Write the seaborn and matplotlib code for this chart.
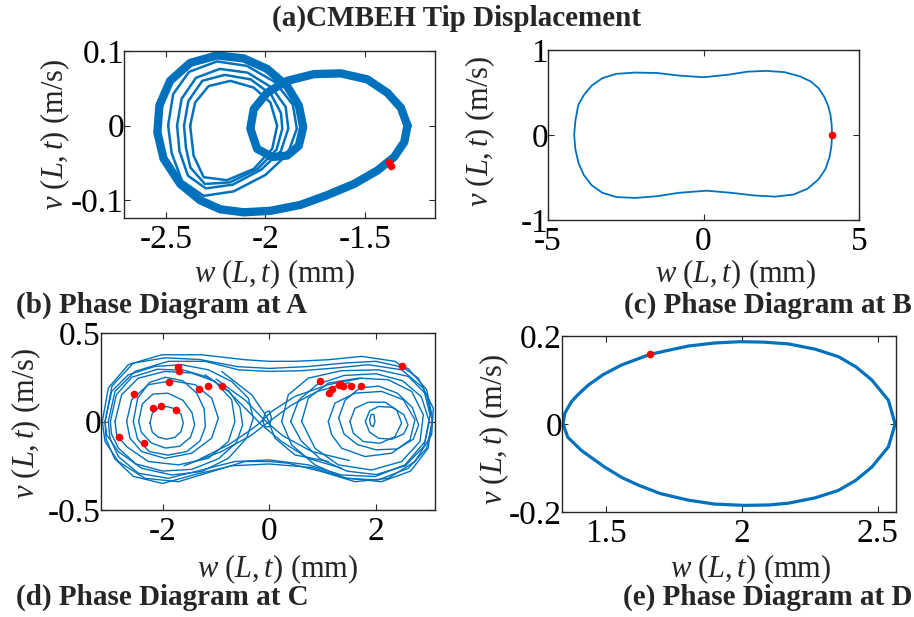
import numpy as np
import matplotlib
matplotlib.use("Agg")
import matplotlib.pyplot as plt
import seaborn as sns

# ---- data -------------------------------------------------------------
# (b) phase diagram at A : main cycle band + nested inner rings
b_main_w = [-1.285, -1.301, -1.352, -1.436, -1.554, -1.689, -1.823, -1.975, -2.109, -2.227,
            -2.328, -2.429, -2.513, -2.544, -2.534, -2.480, -2.379, -2.244, -2.109, -1.992,
            -1.891, -1.832, -1.810, -1.832, -1.891, -1.966, -2.042, -2.076, -2.059, -1.992,
            -1.891, -1.756, -1.621, -1.487, -1.386, -1.318]
b_main_v = [0.000, -0.022, -0.042, -0.060, -0.078, -0.093, -0.106, -0.114, -0.116, -0.112,
            -0.100, -0.078, -0.044, -0.009, 0.027, 0.060, 0.084, 0.094, 0.090, 0.076,
            0.053, 0.027, -0.002, -0.027, -0.040, -0.042, -0.031, -0.004, 0.022, 0.044,
            0.060, 0.069, 0.070, 0.062, 0.044, 0.024]
b_ring1_w = [-2.490, -2.465, -2.385, -2.244, -2.093, -1.950, -1.862, -1.842, -1.888, -2.000,
             -2.160, -2.311, -2.420, -2.472]
b_ring1_v = [0.000, 0.042, 0.072, 0.086, 0.080, 0.058, 0.028, -0.004, -0.038, -0.066,
             -0.088, -0.094, -0.074, -0.037]
b_ring2_w = [-2.445, -2.422, -2.350, -2.230, -2.090, -1.968, -1.898, -1.885, -1.922, -2.022,
             -2.165, -2.300, -2.390, -2.433]
b_ring2_v = [0.000, 0.036, 0.064, 0.076, 0.071, 0.051, 0.025, -0.004, -0.034, -0.059,
             -0.079, -0.084, -0.067, -0.034]
b_ring3_w = [-2.410, -2.388, -2.318, -2.205, -2.075, -1.972, -1.922, -1.915, -1.944, -2.040,
             -2.180, -2.305, -2.378, -2.400]
b_ring3_v = [0.000, 0.033, 0.060, 0.068, 0.062, 0.042, 0.017, -0.004, -0.032, -0.058,
             -0.076, -0.078, -0.056, -0.030]
b_ring4_w = [-2.379, -2.354, -2.286, -2.177, -2.059, -1.975, -1.941, -1.966, -2.059, -2.194,
             -2.311, -2.362]
b_ring4_v = [0.000, 0.031, 0.053, 0.060, 0.051, 0.031, 0.000, -0.031, -0.058, -0.073,
             -0.069, -0.040]
b_dots_w = [-1.377, -1.369]
b_dots_v = [-0.049, -0.054]

# (c) phase diagram at B
c_w = [4.13, 4.12, 4.08, 4.00, 3.88, 3.70, 3.45, 3.10, 2.60, 2.00, 1.40, 0.80, 0.00, -0.80,
       -1.50, -2.20, -2.80, -3.25, -3.60, -3.85, -4.03, -4.12, -4.16, -4.12, -4.02, -3.85,
       -3.60, -3.25, -2.80, -2.20, -1.50, -0.80, 0.10, 0.90, 1.60, 2.30, 2.90, 3.35, 3.70,
       3.92, 4.05, 4.11]
c_v = [0.00, 0.12, 0.24, 0.35, 0.45, 0.55, 0.63, 0.69, 0.74, 0.755, 0.745, 0.71, 0.68, 0.70,
       0.73, 0.735, 0.72, 0.67, 0.58, 0.47, 0.35, 0.17, 0.00, -0.17, -0.33, -0.47,
       -0.59, -0.68, -0.73, -0.74, -0.72, -0.68, -0.655, -0.68, -0.71, -0.725, -0.70, -0.63, -0.52,
       -0.40, -0.26, -0.13]
c_dots_w = [4.13]
c_dots_v = [0.00]

# (d) phase diagram at C : chaotic orbit, read as loops
d_outer1_w = [-3.131, -3.019, -2.644, -2.019, -1.269, -0.456, 0.000, 0.481, 1.106, 1.731, 2.356,
              2.794, 3.075, 3.044, 2.731, 2.231, 1.606, 0.981, 0.356, 0.000, -0.456, -1.081,
              -1.706, -2.331, -2.831, -3.081]
d_outer1_v = [0.000, 0.189, 0.321, 0.377, 0.377, 0.349, 0.340, 0.340, 0.349, 0.368, 0.340,
              0.245, 0.075, -0.075, -0.226, -0.321, -0.340, -0.283, -0.236, -0.226, -0.226, -0.283,
              -0.340, -0.321, -0.226, -0.113]
d_outer2_w = [-3.019, -2.894, -2.519, -1.894, -1.206, -0.581, 0.000, 0.606, 1.231, 1.856, 2.481,
              2.888, 3.013, 2.919, 2.544, 1.981, 1.356, 0.731, 0.000, -0.644, -1.269, -1.894,
              -2.456, -2.831, -2.988]
d_outer2_v = [0.000, 0.170, 0.283, 0.340, 0.340, 0.292, 0.283, 0.287, 0.302, 0.321, 0.292,
              0.189, 0.038, -0.113, -0.245, -0.311, -0.302, -0.245, -0.217, -0.226, -0.274, -0.321,
              -0.292, -0.198, -0.094]
d_outer3_w = [-3.08, -2.95, -2.55, -1.95, -1.30, -0.60, 0.00, 0.70, 1.40, 2.00, 2.60, 2.95,
              3.06, 2.98, 2.65, 2.10, 1.45, 0.80, 0.00, -0.70, -1.40, -2.00, -2.55, -2.90, -3.06]
d_outer3_v = [0.00, 0.20, 0.33, 0.36, 0.35, 0.31, 0.30, 0.31, 0.33, 0.34, 0.30, 0.18,
              0.02, -0.15, -0.28, -0.34, -0.32, -0.26, -0.24, -0.25, -0.30, -0.35, -0.31, -0.21, -0.10]
d_left1_w = [-3.081, -2.956, -2.644, -2.144, -1.644, -1.144, -0.706, -0.394, -0.300, -0.425,
             -0.769, -1.269, -1.831, -2.394, -2.831, -3.050]
d_left1_v = [0.000, 0.170, 0.264, 0.311, 0.321, 0.292, 0.226, 0.132, 0.019, -0.094,
             -0.208, -0.283, -0.302, -0.264, -0.170, -0.075]
d_left2_w = [-2.98, -2.87, -2.58, -2.10, -1.60, -1.15, -0.75, -0.55, -0.50, -0.62, -0.95,
             -1.45, -2.00, -2.50, -2.83, -2.96]
d_left2_v = [0.00, 0.15, 0.25, 0.295, 0.29, 0.25, 0.17, 0.08, -0.02, -0.12, -0.21,
             -0.27, -0.28, -0.24, -0.15, -0.07]
d_left3_w = [-2.894, -2.769, -2.456, -1.956, -1.456, -1.019, -0.706, -0.644, -0.769, -1.144,
             -1.706, -2.269, -2.675, -2.863]
d_left3_v = [0.000, 0.151, 0.245, 0.283, 0.274, 0.226, 0.123, 0.000, -0.113, -0.208,
             -0.245, -0.226, -0.142, -0.075]
d_left4_w = [-2.675, -2.581, -2.269, -1.831, -1.394, -1.081, -0.956, -1.081, -1.456, -1.956,
             -2.394, -2.613]
d_left4_v = [0.000, 0.123, 0.208, 0.230, 0.208, 0.132, 0.019, -0.094, -0.179, -0.208,
             -0.170, -0.094]
d_left5_w = [-2.55, -2.47, -2.25, -1.95, -1.62, -1.36, -1.22, -1.20, -1.30, -1.55, -1.90,
             -2.25, -2.47]
d_left5_v = [0.00, 0.13, 0.22, 0.25, 0.23, 0.16, 0.07, -0.03, -0.11, -0.17, -0.19,
             -0.17, -0.10]
d_left6_w = [-2.45, -2.38, -2.18, -1.90, -1.62, -1.45, -1.40, -1.48, -1.68, -1.95, -2.22, -2.40]
d_left6_v = [0.00, 0.10, 0.155, 0.16, 0.12, 0.05, -0.02, -0.09, -0.14, -0.15, -0.12, -0.06]
d_left7_w = [-2.238, -2.194, -2.081, -1.925, -1.769, -1.656, -1.613, -1.656, -1.769, -1.925,
             -2.081, -2.194]
d_left7_v = [-0.009, 0.047, 0.075, 0.085, 0.072, 0.042, -0.009, -0.057, -0.089, -0.100,
             -0.089, -0.060]
d_right1_w = [0.231, 0.356, 0.731, 1.356, 2.044, 2.606, 2.950, 3.056, 2.950, 2.606, 2.044,
              1.419, 0.856, 0.419]
d_right1_v = [0.000, 0.151, 0.245, 0.287, 0.292, 0.255, 0.151, 0.000, -0.151, -0.264, -0.330,
              -0.321, -0.245, -0.132]
d_right2_w = [0.40, 0.55, 0.90, 1.40, 2.00, 2.50, 2.85, 3.00, 2.90, 2.55, 2.00, 1.45, 0.95, 0.60]
d_right2_v = [0.00, 0.12, 0.21, 0.26, 0.27, 0.23, 0.14, 0.00, -0.14, -0.25, -0.30, -0.28,
              -0.21, -0.11]
d_right3_w = [0.606, 0.731, 1.106, 1.669, 2.231, 2.669, 2.888, 2.825, 2.481, 1.919, 1.294, 0.856]
d_right3_v = [0.000, 0.132, 0.217, 0.245, 0.236, 0.170, 0.038, -0.113, -0.226, -0.274, -0.245,
              -0.151]
d_right4_w = [1.106, 1.231, 1.606, 2.106, 2.513, 2.731, 2.638, 2.294, 1.794, 1.356, 1.169]
d_right4_v = [0.000, 0.104, 0.160, 0.170, 0.123, 0.009, -0.104, -0.179, -0.198, -0.151, -0.075]
d_right5_w = [1.30, 1.42, 1.70, 2.05, 2.40, 2.68, 2.80, 2.70, 2.40, 2.00, 1.65, 1.40]
d_right5_v = [0.02, 0.12, 0.19, 0.20, 0.16, 0.08, -0.02, -0.10, -0.155, -0.16, -0.13, -0.07]
d_right6_w = [1.513, 1.606, 1.856, 2.169, 2.388, 2.481, 2.356, 2.075, 1.763, 1.575]
d_right6_v = [0.000, 0.075, 0.109, 0.109, 0.066, -0.009, -0.085, -0.123, -0.113, -0.066]
d_right7_w = [1.80, 1.88, 2.05, 2.30, 2.52, 2.60, 2.52, 2.30, 2.05, 1.88]
d_right7_v = [0.00, 0.06, 0.085, 0.08, 0.04, -0.02, -0.07, -0.10, -0.095, -0.06]
d_tiny1_w = [1.88, 1.91, 1.96, 1.98, 1.95, 1.90]
d_tiny1_v = [0.01, 0.04, 0.04, 0.00, -0.03, -0.02]
d_tiny2_w = [-0.12, -0.08, 0.00, 0.04, 0.00, -0.08]
d_tiny2_v = [0.00, 0.05, 0.06, 0.02, -0.03, -0.03]
d_cross1_w = [-1.206, -0.769, -0.394, -0.144, 0.231, 0.731, 1.356]
d_cross1_v = [0.264, 0.170, 0.057, -0.019, -0.113, -0.208, -0.264]
d_cross2_w = [-1.394, -0.769, -0.394, -0.206, 0.044, 0.481, 1.106, 1.731]
d_cross2_v = [-0.226, -0.132, -0.057, -0.015, 0.057, 0.142, 0.208, 0.245]
d_cross3_w = [-0.894, -0.331, -0.050, 0.106, 0.481, 1.106]
d_cross3_v = [0.283, 0.151, 0.028, -0.094, -0.189, -0.226]
d_cross4_w = [-1.60, -0.90, -0.35, 0.00, 0.40, 0.90, 1.50]
d_cross4_v = [-0.25, -0.17, -0.08, 0.00, 0.09, 0.17, 0.22]
d_cross5_w = [-1.00, -0.45, -0.10, 0.25, 0.80, 1.50]
d_cross5_v = [0.24, 0.12, 0.01, -0.08, -0.17, -0.22]
d_dots_w = [-1.706, -1.688, -1.881, -2.538, -2.188, -2.025, -1.750, -2.819, -2.350, -1.313,
            -1.150, -0.881, 0.950, 1.325, 1.375, 1.181, 1.125, 1.538, 1.720, 2.480, 1.313]
d_dots_v = [0.308, 0.283, 0.221, 0.153, 0.074, 0.089, 0.066, -0.089, -0.119, 0.185,
            0.200, 0.202, 0.226, 0.213, 0.202, 0.183, 0.160, 0.200, 0.198, 0.311, 0.204]

# (e) phase diagram at D
e_w = [2.565, 2.540, 2.479, 2.420, 2.356, 2.270, 2.172, 2.080, 1.994, 1.900, 1.803, 1.720,
       1.662, 1.558, 1.490, 1.435, 1.395, 1.373, 1.349, 1.343, 1.360, 1.410, 1.496, 1.560,
       1.620, 1.700, 1.803, 1.900, 2.010, 2.100, 2.172, 2.270, 2.356, 2.420, 2.479, 2.540]
e_v = [0.000, 0.054, 0.100, 0.130, 0.153, 0.170, 0.182, 0.186, 0.187, 0.184, 0.177, 0.166,
       0.158, 0.134, 0.112, 0.088, 0.065, 0.050, 0.024, 0.000, -0.030, -0.060, -0.098, -0.122,
       -0.139, -0.158, -0.173, -0.182, -0.185, -0.184, -0.180, -0.168, -0.151, -0.128, -0.098, -0.052]
e_dots_w = [1.662]
e_dots_v = [0.158]

# ---- style ---------------------------------------------------------------
sns.set_style("ticks")
plt.rcParams['font.family'] = ['Liberation Serif', 'DejaVu Serif']
plt.rcParams['mathtext.fontset'] = 'custom'
plt.rcParams['mathtext.rm'] = 'Liberation Serif'
plt.rcParams['mathtext.it'] = 'Liberation Serif:italic'
plt.rcParams['axes.unicode_minus'] = False

BLUE = '#0072BD'
RED = '#FF0000'
XLAB = r'$w\ (L,t)$ (mm)'
YLAB = r'$v\ (L,t)$ (m/s)'

fig = plt.figure(figsize=(9.14, 6.17), dpi=100)


def closed(a):
    return list(a) + [a[0]]


def trace(ax, w, v, lw, close=True):
    if close:
        w, v = closed(w), closed(v)
    sns.lineplot(x=w, y=v, sort=False, estimator=None, color=BLUE, linewidth=lw,
                 solid_joinstyle='round', solid_capstyle='round', ax=ax)


def dots(ax, w, v):
    sns.scatterplot(x=w, y=v, color=RED, s=30, edgecolor=RED, linewidth=0, zorder=5, ax=ax)


def style(ax, xlim, ylim, xt, yt, xlc, ylc):
    ax.set_xlim(xlim)
    ax.set_ylim(ylim)
    ax.set_xticks(xt)
    ax.set_yticks(yt)
    ax.set_xticklabels([('%g' % t) for t in xt])
    ax.set_yticklabels([('%g' % t) for t in yt])
    ax.tick_params(direction='in', length=4, width=0.8, top=True, right=True,
                   labelsize=24, colors='#262626', labelcolor='black')
    ax.tick_params(axis='y', pad=0)
    ax.tick_params(axis='x', pad=5)
    for s in ax.spines.values():
        s.set_visible(True)
        s.set_color('#262626')
        s.set_linewidth(1.0)
    ax.set_xlabel(XLAB, fontsize=22, va='center')
    ax.set_ylabel(YLAB, fontsize=22, va='center')
    ax.xaxis.set_label_coords(*xlc)
    ax.yaxis.set_label_coords(*ylc)


# (b)
axb = fig.add_axes([0.1357, 0.6467, 0.3403, 0.2707])
trace(axb, b_main_w, b_main_v, 6)
for w, v in [(b_ring1_w, b_ring1_v), (b_ring2_w, b_ring2_v), (b_ring3_w, b_ring3_v),
             (b_ring4_w, b_ring4_v)]:
    trace(axb, w, v, 1.8)
dots(axb, b_dots_w, b_dots_v)
style(axb, (-2.712, -1.146), (-0.1236, 0.1), [-2.5, -2, -1.5], [-0.1, 0, 0.1],
      (0.484, -0.335), (-0.222, 0.5))

# (c)
axc = fig.add_axes([0.5996, 0.6434, 0.3403, 0.2755])
trace(axc, c_w, c_v, 1.3)
dots(axc, c_dots_w, c_dots_v)
style(axc, (-5, 5), (-1, 1), [-5, 0, 5], [-1, 0, 1], (0.605, -0.32), (-0.219, 0.52))

# (d)
axd = fig.add_axes([0.1105, 0.1734, 0.3654, 0.2869])
for w, v in [(d_outer1_w, d_outer1_v), (d_outer2_w, d_outer2_v), (d_outer3_w, d_outer3_v),
             (d_left1_w, d_left1_v), (d_left2_w, d_left2_v), (d_left3_w, d_left3_v),
             (d_left4_w, d_left4_v), (d_left5_w, d_left5_v), (d_left6_w, d_left6_v),
             (d_left7_w, d_left7_v), (d_right1_w, d_right1_v), (d_right2_w, d_right2_v),
             (d_right3_w, d_right3_v), (d_right4_w, d_right4_v), (d_right5_w, d_right5_v),
             (d_right6_w, d_right6_v), (d_right7_w, d_right7_v), (d_tiny1_w, d_tiny1_v),
             (d_tiny2_w, d_tiny2_v)]:
    trace(axd, w, v, 1.0)
for w, v in [(d_cross1_w, d_cross1_v), (d_cross2_w, d_cross2_v), (d_cross3_w, d_cross3_v),
             (d_cross4_w, d_cross4_v), (d_cross5_w, d_cross5_v)]:
    trace(axd, w, v, 1.0, close=False)
dots(axd, d_dots_w, d_dots_v)
style(axd, (-3.156, 3.106), (-0.5, 0.5), [-2, 0, 2], [-0.5, 0, 0.5], (0.53, -0.335), (-0.225, 0.49))

# (e)
axe = fig.add_axes([0.6149, 0.1702, 0.3654, 0.2853])
trace(axe, e_w, e_v, 2.3)
dots(axe, e_dots_w, e_dots_v)
style(axe, (1.339, 2.568), (-0.2, 0.2), [1.5, 2, 2.5], [-0.2, 0, 0.2], (0.566, -0.325), (-0.204, 0.47))

# titles
fig.text(0.5, 1 - 18 / 617, '(a)CMBEH Tip Displacement', ha='center', va='center',
         fontsize=21, fontweight='bold')
fig.text(16 / 914, 1 - 305 / 617, '(b) Phase Diagram at A', ha='left', va='center',
         fontsize=21, fontweight='bold')
fig.text(912 / 914, 1 - 305 / 617, '(c) Phase Diagram at B', ha='right', va='center',
         fontsize=21, fontweight='bold')
fig.text(16 / 914, 1 - 597 / 617, '(d) Phase Diagram at C', ha='left', va='center',
         fontsize=21, fontweight='bold')
fig.text(912 / 914, 1 - 597 / 617, '(e) Phase Diagram at D', ha='right', va='center',
         fontsize=21, fontweight='bold')

fig.savefig('out.png', dpi=100)
